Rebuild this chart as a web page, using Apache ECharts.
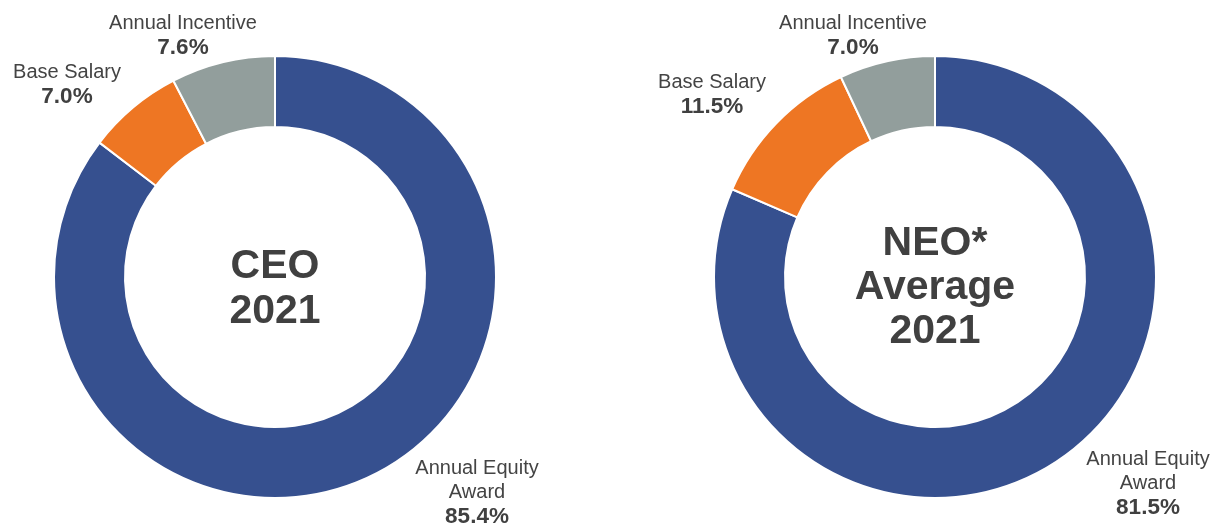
<!DOCTYPE html>
<html>
	<head>
		<meta charset="UTF-8">
		<title>pay mix</title>
		<script src="https://cdn.jsdelivr.net/npm/echarts@6/dist/echarts.min.js"></script>
		<style>
			html, body { margin: 0; padding: 0; background: #fff; }
			#chart { width: 1215px; height: 527px; }
		</style>
	</head>
	<body>
		<div id="chart"></div>
		<script>
			// data
			var categories = ['Annual Equity\nAward', 'Base Salary', 'Annual Incentive'];
			var ceoValues = [85.4, 7.0, 7.6];
			var neoValues = [81.5, 11.5, 7.0];
			var colors = ['#36508f', '#ee7623', '#929e9c'];

			var leftCenter = [275, 277];
			var rightCenter = [935, 277];
			// label block offsets from each donut's centre
			var leftOffsets = [[202, 216], [-208, -192], [-92, -241]];
			var rightOffsets = [[213, 207], [-223, -182], [-82, -241]];

			function toData(values) {
				return values.map(function (v, i) {
					return { name: categories[i], value: v, itemStyle: { color: colors[i] } };
				});
			}

			function layoutFor(center, offsets) {
				return function (params) {
					var o = offsets[params.dataIndex];
					return { x: center[0] + o[0], y: center[1] + o[1], align: 'center', verticalAlign: 'middle' };
				};
			}

			function pieSeries(center, values, offsets) {
				return {
					type: 'pie',
					center: center,
					radius: [150, 221],
					startAngle: 90,
					clockwise: true,
					silent: true,
					itemStyle: { borderColor: '#fff', borderWidth: 2 },
					label: {
						show: true,
						position: 'outside',
						overflow: 'none',
						formatter: function (p) {
							return '{n|' + p.name.split('\n').join('}\n{n|') + '}\n{p|' + p.value.toFixed(1) + '%}';
						},
						rich: {
							n: { fontFamily: 'Liberation Sans, Arial', fontSize: 20, color: '#444', lineHeight: 24, align: 'center' },
							p: { fontFamily: 'Liberation Sans, Arial', fontSize: 22.5, fontWeight: 'bold', color: '#404040', lineHeight: 25, align: 'center' }
						}
					},
					labelLine: { show: false },
					labelLayout: layoutFor(center, offsets),
					data: toData(values)
				};
			}

			var myChart = echarts.init(document.getElementById('chart'));
			var option = {
				animation: false,
				graphic: [
					{
						type: 'text', x: leftCenter[0], y: leftCenter[1] + 12,
						style: { text: 'CEO\n2021', textAlign: 'center', textVerticalAlign: 'middle',
							font: 'bold 41px "Liberation Sans", Arial', fill: '#404040', lineHeight: 45 }
					},
					{
						type: 'text', x: rightCenter[0], y: rightCenter[1] + 11,
						style: { text: 'NEO*\nAverage\n2021', textAlign: 'center', textVerticalAlign: 'middle',
							font: 'bold 41px "Liberation Sans", Arial', fill: '#404040', lineHeight: 44 }
					}
				],
				series: [
					pieSeries(leftCenter, ceoValues, leftOffsets),
					pieSeries(rightCenter, neoValues, rightOffsets)
				]
			};
			myChart.setOption(option);
		</script>
	</body>
</html>
